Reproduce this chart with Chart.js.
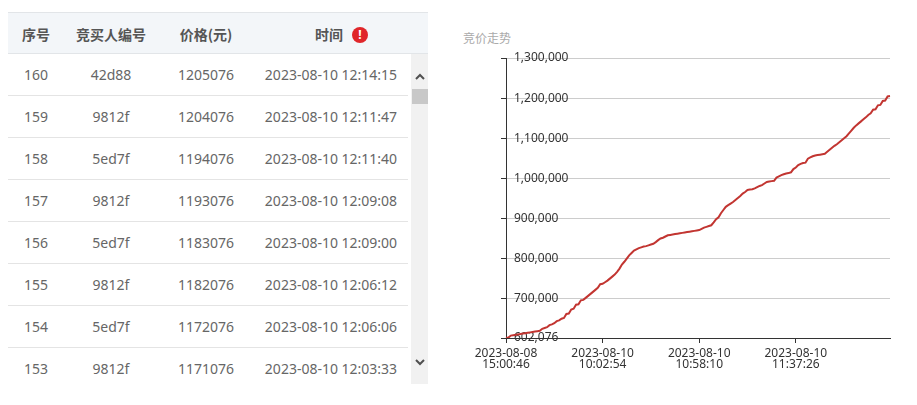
<!DOCTYPE html>
<html>
<head>
<meta charset="utf-8">
<script src="https://cdn.jsdelivr.net/npm/chart.js@4"></script>
<style>
  html, body { margin: 0; padding: 0; background: #fff; }
  body { width: 917px; height: 405px; position: relative; overflow: hidden;
         font-family: "Noto Sans", "Noto Sans CJK SC", sans-serif; }
  #tbl { position: absolute; left: 8px; top: 12px; width: 420px; height: 372px; overflow: hidden; }
  .hdr { position: absolute; left: 0; top: 0; width: 420px; height: 42px; background: #f3f6f9;
         border-top: 1px solid #e2e5e8; border-bottom: 1px solid #e2e5e8; box-sizing: border-box; }
  .cell { position: absolute; text-align: center; white-space: nowrap; }
  .hcell { font-family: "Noto Sans CJK SC", sans-serif; font-weight: bold; font-size: 14px; color: #555;
           top: 0; height: 40px; line-height: 42px; }
  .row { position: absolute; left: 0; width: 400px; height: 42px; border-bottom: 1px solid #e4e4e4; box-sizing: border-box; }
  .bcell { font-size: 14px; color: #666; top: 0; height: 42px; line-height: 42px; }
  .icon { position: absolute; left: 344px; top: 14px; width: 16px; height: 16px; border-radius: 50%;
          background: #e0262a; color: #fff; font-size: 12px; font-weight: bold; line-height: 16px; text-align: center;
          font-family: "Noto Sans", sans-serif; }
  .track { position: absolute; left: 403px; top: 42px; width: 17px; height: 330px; background: #f1f1f1; }
  .thumb { position: absolute; left: 1px; top: 35px; width: 16px; height: 15px; background: #c8c8c8; }
  #title { position: absolute; left: 463px; top: 31px; font-family: "Noto Sans CJK SC", sans-serif;
           font-size: 12px; line-height: 14px; color: #aaa; }
  #chartBox { position: absolute; left: 450px; top: 0; width: 467px; height: 405px; }
</style>
</head>
<body>
<div id="tbl">
  <div class="hdr" id="hdr"></div>
  <div id="rows"></div>
  <div class="track">
    <svg width="17" height="330" style="position:absolute;left:0;top:0">
      <polyline points="5,25 9,21 13,25" fill="none" stroke="#505050" stroke-width="2"/>
      <polyline points="5,306 9,310 13,306" fill="none" stroke="#505050" stroke-width="2"/>
    </svg>
    <div class="thumb"></div>
  </div>
</div>
<div id="title">竞价走势</div>
<div id="chartBox"><canvas id="c"></canvas></div>

<script>
// ---- table data ----
const headers = ['序号', '竞买人编号', '价格(元)', '时间'];
const rowSeq = [160, 159, 158, 157, 156, 155, 154, 153];
const rowBidder = ['42d88', '9812f', '5ed7f', '9812f', '5ed7f', '9812f', '5ed7f', '9812f'];
const rowPrice = [1205076, 1204076, 1194076, 1193076, 1183076, 1182076, 1172076, 1171076];
const rowTime = ['2023-08-10 12:14:15', '2023-08-10 12:11:47', '2023-08-10 12:11:40', '2023-08-10 12:09:08',
                 '2023-08-10 12:09:00', '2023-08-10 12:06:12', '2023-08-10 12:06:06', '2023-08-10 12:03:33'];

// ---- chart data ----
const priceSeries = [
  602076, 603076, 608076, 609076, 610076, 611076, 612076, 613076, 614076, 615076,
  616076, 617076, 618076, 619076, 620076, 625076, 627076, 629076, 634076, 636076,
  639076, 644076, 646076, 650076, 652076, 662076, 663076, 673076, 675076, 685076,
  686076, 696076, 697076, 702076, 707076, 712076, 717076, 722076, 727076, 736076,
  737076, 741076, 745076, 750076, 755076, 760076, 767076, 775076, 785076, 792076,
  800076, 808076, 814076, 820076, 823076, 826076, 828076, 830076, 831076, 833076,
  835076, 837076, 841076, 846076, 850076, 852076, 855076, 858076, 859076, 860076,
  861076, 862076, 863076, 864076, 865076, 866076, 867076, 868076, 869076, 870076,
  871076, 874076, 877076, 879076, 881076, 883076, 890076, 898076, 903076, 913076,
  921076, 929076, 933076, 937076, 941076, 946076, 951076, 956076, 962076, 966076,
  971076, 972076, 973076, 975076, 978076, 981076, 983076, 987076, 991076, 992076,
  993076, 994076, 1002076, 1005076, 1008076, 1010076, 1012076, 1013076, 1015076, 1023076,
  1027076, 1033076, 1036076, 1038076, 1039076, 1049076, 1052076, 1055076, 1057076, 1058076,
  1059076, 1060076, 1061076, 1066076, 1071076, 1076076, 1081076, 1085076, 1090076, 1095076,
  1100076, 1105076, 1112076, 1119076, 1126076, 1132076, 1137076, 1142076, 1147076, 1152076,
  1158076, 1162076, 1171076, 1172076, 1182076, 1183076, 1193076, 1194076, 1204076, 1205076
];
const xTickIndex = [0, 40, 80, 120];
const xTickText = [
  ['2023-08-08', '15:00:46'],
  ['2023-08-10', '10:02:54'],
  ['2023-08-10', '10:58:10'],
  ['2023-08-10', '11:37:26']
];
const yTickValues = [602076, 700000, 800000, 900000, 1000000, 1100000, 1200000, 1300000];
const yMin = 602076, yMax = 1300000;

// ---- build table ----
const colLeft = [0, 56, 150, 246];
const colWidth = [56, 94, 96, 154];
const hdr = document.getElementById('hdr');
headers.forEach((h, i) => {
  const d = document.createElement('div');
  d.className = 'cell hcell';
  d.style.left = (i === 3 ? colLeft[i] - 2 : colLeft[i]) + 'px';
  d.style.width = colWidth[i] + 'px';
  d.textContent = h;
  hdr.appendChild(d);
});
const icon = document.createElement('div');
icon.className = 'icon'; icon.textContent = '!';
hdr.appendChild(icon);

const rowsEl = document.getElementById('rows');
rowSeq.forEach((s, r) => {
  const row = document.createElement('div');
  row.className = 'row';
  row.style.top = (42 + r * 42) + 'px';
  [s, rowBidder[r], rowPrice[r], rowTime[r]].forEach((v, i) => {
    const d = document.createElement('div');
    d.className = 'cell bcell';
    d.style.left = colLeft[i] + 'px';
    d.style.width = colWidth[i] + 'px';
    d.textContent = v;
    row.appendChild(d);
  });
  rowsEl.appendChild(row);
});

// ---- chart ----
const YFONT = { family: '"Noto Sans", sans-serif', size: 12, lineHeight: 1 };
const XFONT = { family: '"Noto Sans", sans-serif', size: 12, lineHeight: 0.9 };
new Chart(document.getElementById('c'), {
  type: 'line',
  data: {
    labels: priceSeries.map((_, i) => i),
    datasets: [{
      data: priceSeries,
      borderColor: '#c23531',
      borderWidth: 2,
      pointRadius: 0,
      tension: 0,
      fill: false
    }]
  },
  options: {
    responsive: true,
    maintainAspectRatio: false,
    animation: false,
    layout: { padding: { left: 50, right: 27, top: 58, bottom: 27 } },
    plugins: { legend: { display: false }, tooltip: { enabled: false } },
    scales: {
      x: {
        type: 'category',
        offset: false,
        afterBuildTicks: (axis) => { axis.ticks = xTickIndex.map(v => ({ value: v })); },
        afterFit: (axis) => { axis.height = 40; },
        ticks: {
          autoSkip: false, maxRotation: 0, minRotation: 0, padding: 5,
          color: '#333', font: XFONT,
          callback: (value) => { const k = xTickIndex.indexOf(value); return k >= 0 ? xTickText[k] : null; }
        },
        grid: { drawOnChartArea: false, drawTicks: true, tickLength: 5, tickColor: '#333' },
        border: { display: true, color: '#333', width: 1 }
      },
      y: {
        type: 'linear',
        min: yMin, max: yMax,
        afterBuildTicks: (axis) => { axis.ticks = yTickValues.map(v => ({ value: v })); },
        afterFit: (axis) => { axis.width = 6; },
        ticks: {
          mirror: true, padding: 8, color: '#333', font: YFONT,
          callback: (v) => Number(v).toLocaleString('en-US')
        },
        grid: { color: '#ccc', tickColor: '#333', tickLength: 5, lineWidth: 1 },
        border: { display: true, color: '#333', width: 1 }
      }
    }
  }
});
</script>
</body>
</html>
